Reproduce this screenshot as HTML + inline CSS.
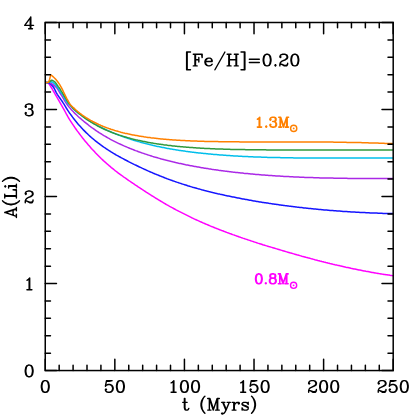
<!DOCTYPE html>
<html><head><meta charset="utf-8"><title>A(Li) vs t</title><style>
html,body{margin:0;padding:0;background:#fff;}
body{width:415px;height:415px;overflow:hidden;font-family:"Liberation Serif",serif;}
svg{display:block;position:absolute;left:0;top:0;}
</style></head><body>
<svg width="415" height="415" viewBox="0 0 415 415">
<rect width="415" height="415" fill="#fff"/>
<g fill="none" stroke-width="1.5" stroke-linejoin="round" stroke-linecap="butt">
<path d="M45.3,82.6 L46.3,82.6 L47.3,82.7 L48.3,83.2 L49.3,84.3 L50.3,85.8 L51.3,87.5 L52.3,89.2 L53.3,91.0 L54.3,92.7 L55.3,94.5 L56.3,96.2 L57.3,97.9 L58.3,99.6 L59.3,101.4 L60.3,103.1 L61.3,104.9 L62.3,106.6 L63.3,108.4 L64.3,110.2 L65.3,112.0 L66.3,113.9 L67.3,115.7 L68.3,117.5 L69.3,119.2 L70.4,120.8 L71.4,122.3 L72.4,123.9 L73.4,125.4 L74.4,126.8 L75.4,128.3 L76.4,129.7 L77.4,131.1 L78.4,132.4 L79.4,133.8 L80.4,135.1 L81.4,136.4 L82.4,137.7 L83.4,138.9 L84.4,140.2 L85.4,141.4 L86.4,142.6 L87.4,143.8 L88.4,145.0 L89.4,146.1 L90.4,147.2 L91.4,148.4 L92.4,149.5 L93.4,150.5 L94.4,151.6 L95.4,152.7 L96.4,153.7 L97.4,154.7 L98.4,155.7 L99.4,156.7 L100.4,157.7 L101.4,158.7 L102.4,159.6 L103.4,160.6 L104.4,161.5 L105.4,162.4 L106.4,163.3 L107.4,164.2 L108.4,165.0 L109.4,165.9 L110.4,166.7 L111.4,167.6 L112.4,168.4 L113.4,169.2 L114.4,170.0 L115.4,170.8 L116.4,171.5 L117.4,172.3 L118.4,173.1 L119.4,173.8 L120.5,174.6 L121.5,175.3 L122.5,176.0 L123.5,176.8 L124.5,177.5 L125.5,178.2 L126.5,178.9 L127.5,179.6 L128.5,180.3 L129.5,181.0 L130.5,181.7 L131.5,182.4 L132.5,183.0 L133.5,183.7 L134.5,184.4 L135.5,185.1 L136.5,185.7 L137.5,186.4 L138.5,187.1 L139.5,187.7 L140.5,188.4 L141.5,189.0 L142.5,189.7 L143.5,190.3 L144.5,191.0 L145.5,191.6 L146.5,192.3 L147.5,192.9 L148.5,193.6 L149.5,194.2 L150.5,194.8 L151.5,195.5 L152.5,196.1 L153.5,196.7 L154.5,197.3 L155.5,198.0 L156.5,198.6 L157.5,199.2 L158.5,199.8 L159.5,200.4 L160.5,201.0 L161.5,201.6 L162.5,202.2 L163.5,202.8 L164.5,203.4 L165.5,204.0 L166.5,204.6 L167.5,205.1 L168.5,205.7 L169.6,206.3 L170.6,206.8 L171.6,207.4 L172.6,207.9 L173.6,208.5 L174.6,209.0 L175.6,209.6 L176.6,210.1 L177.6,210.6 L178.6,211.2 L179.6,211.7 L180.6,212.2 L181.6,212.7 L182.6,213.2 L183.6,213.7 L184.6,214.2 L185.6,214.7 L186.6,215.2 L187.6,215.7 L188.6,216.2 L189.6,216.7 L190.6,217.2 L191.6,217.7 L192.6,218.1 L193.6,218.6 L194.6,219.1 L195.6,219.5 L196.6,220.0 L197.6,220.4 L198.6,220.9 L199.6,221.3 L200.6,221.8 L201.6,222.2 L202.6,222.7 L203.6,223.1 L204.6,223.5 L205.6,224.0 L206.6,224.4 L207.6,224.8 L208.6,225.2 L209.6,225.6 L210.6,226.1 L211.6,226.5 L212.6,226.9 L213.6,227.3 L214.6,227.7 L215.6,228.1 L216.6,228.5 L217.6,228.9 L218.6,229.3 L219.7,229.7 L220.7,230.1 L221.7,230.5 L222.7,230.8 L223.7,231.2 L224.7,231.6 L225.7,232.0 L226.7,232.4 L227.7,232.7 L228.7,233.1 L229.7,233.5 L230.7,233.8 L231.7,234.2 L232.7,234.6 L233.7,234.9 L234.7,235.3 L235.7,235.6 L236.7,236.0 L237.7,236.3 L238.7,236.7 L239.7,237.0 L240.7,237.4 L241.7,237.7 L242.7,238.1 L243.7,238.4 L244.7,238.8 L245.7,239.1 L246.7,239.4 L247.7,239.8 L248.7,240.1 L249.7,240.4 L250.7,240.8 L251.7,241.1 L252.7,241.4 L253.7,241.8 L254.7,242.1 L255.7,242.4 L256.7,242.7 L257.7,243.1 L258.7,243.4 L259.7,243.7 L260.7,244.0 L261.7,244.3 L262.7,244.7 L263.7,245.0 L264.7,245.3 L265.7,245.6 L266.7,245.9 L267.7,246.2 L268.7,246.5 L269.8,246.8 L270.8,247.1 L271.8,247.4 L272.8,247.7 L273.8,248.0 L274.8,248.3 L275.8,248.6 L276.8,248.9 L277.8,249.2 L278.8,249.5 L279.8,249.8 L280.8,250.1 L281.8,250.4 L282.8,250.7 L283.8,251.0 L284.8,251.3 L285.8,251.6 L286.8,251.9 L287.8,252.2 L288.8,252.5 L289.8,252.8 L290.8,253.1 L291.8,253.3 L292.8,253.6 L293.8,253.9 L294.8,254.2 L295.8,254.5 L296.8,254.8 L297.8,255.0 L298.8,255.3 L299.8,255.6 L300.8,255.9 L301.8,256.2 L302.8,256.4 L303.8,256.7 L304.8,257.0 L305.8,257.3 L306.8,257.5 L307.8,257.8 L308.8,258.1 L309.8,258.3 L310.8,258.6 L311.8,258.9 L312.8,259.1 L313.8,259.4 L314.8,259.7 L315.8,259.9 L316.8,260.2 L317.8,260.5 L318.9,260.7 L319.9,261.0 L320.9,261.2 L321.9,261.5 L322.9,261.7 L323.9,262.0 L324.9,262.2 L325.9,262.5 L326.9,262.7 L327.9,263.0 L328.9,263.2 L329.9,263.5 L330.9,263.7 L331.9,263.9 L332.9,264.2 L333.9,264.4 L334.9,264.7 L335.9,264.9 L336.9,265.1 L337.9,265.4 L338.9,265.6 L339.9,265.8 L340.9,266.1 L341.9,266.3 L342.9,266.5 L343.9,266.7 L344.9,266.9 L345.9,267.2 L346.9,267.4 L347.9,267.6 L348.9,267.8 L349.9,268.0 L350.9,268.3 L351.9,268.5 L352.9,268.7 L353.9,268.9 L354.9,269.1 L355.9,269.3 L356.9,269.5 L357.9,269.7 L358.9,269.9 L359.9,270.1 L360.9,270.3 L361.9,270.5 L362.9,270.7 L363.9,270.9 L364.9,271.1 L365.9,271.3 L366.9,271.4 L367.9,271.6 L369.0,271.8 L370.0,272.0 L371.0,272.2 L372.0,272.4 L373.0,272.5 L374.0,272.7 L375.0,272.9 L376.0,273.1 L377.0,273.2 L378.0,273.4 L379.0,273.6 L380.0,273.7 L381.0,273.9 L382.0,274.1 L383.0,274.2 L384.0,274.4 L385.0,274.5 L386.0,274.7 L387.0,274.8 L388.0,275.0 L389.0,275.1 L390.0,275.3 L391.0,275.4 L392.0,275.6 L393.0,275.7" stroke="#ff00ff"/>
<path d="M45.3,82.6 L46.3,82.6 L47.3,82.7 L48.3,82.8 L49.3,83.2 L50.3,83.8 L51.3,84.7 L52.3,85.8 L53.3,87.0 L54.3,88.5 L55.3,90.6 L56.3,92.6 L57.3,94.3 L58.3,95.8 L59.3,97.3 L60.3,98.7 L61.3,100.1 L62.3,101.5 L63.3,103.1 L64.3,104.6 L65.3,106.3 L66.3,108.0 L67.3,109.6 L68.3,111.2 L69.3,112.7 L70.4,114.1 L71.4,115.5 L72.4,116.9 L73.4,118.2 L74.4,119.5 L75.4,120.8 L76.4,122.0 L77.4,123.2 L78.4,124.4 L79.4,125.5 L80.4,126.6 L81.4,127.7 L82.4,128.8 L83.4,129.9 L84.4,130.9 L85.4,131.9 L86.4,132.9 L87.4,133.8 L88.4,134.8 L89.4,135.7 L90.4,136.6 L91.4,137.5 L92.4,138.3 L93.4,139.2 L94.4,140.0 L95.4,140.8 L96.4,141.6 L97.4,142.4 L98.4,143.2 L99.4,143.9 L100.4,144.7 L101.4,145.4 L102.4,146.1 L103.4,146.8 L104.4,147.5 L105.4,148.2 L106.4,148.9 L107.4,149.5 L108.4,150.2 L109.4,150.8 L110.4,151.4 L111.4,152.1 L112.4,152.7 L113.4,153.3 L114.4,153.9 L115.4,154.5 L116.4,155.1 L117.4,155.6 L118.4,156.2 L119.4,156.8 L120.5,157.3 L121.5,157.9 L122.5,158.4 L123.5,158.9 L124.5,159.5 L125.5,160.0 L126.5,160.5 L127.5,161.0 L128.5,161.6 L129.5,162.1 L130.5,162.6 L131.5,163.1 L132.5,163.6 L133.5,164.1 L134.5,164.6 L135.5,165.0 L136.5,165.5 L137.5,166.0 L138.5,166.5 L139.5,167.0 L140.5,167.4 L141.5,167.9 L142.5,168.4 L143.5,168.8 L144.5,169.3 L145.5,169.7 L146.5,170.2 L147.5,170.6 L148.5,171.1 L149.5,171.5 L150.5,172.0 L151.5,172.4 L152.5,172.8 L153.5,173.3 L154.5,173.7 L155.5,174.1 L156.5,174.5 L157.5,174.9 L158.5,175.3 L159.5,175.7 L160.5,176.1 L161.5,176.5 L162.5,176.9 L163.5,177.3 L164.5,177.7 L165.5,178.1 L166.5,178.5 L167.5,178.9 L168.5,179.2 L169.6,179.6 L170.6,180.0 L171.6,180.3 L172.6,180.7 L173.6,181.0 L174.6,181.4 L175.6,181.7 L176.6,182.1 L177.6,182.4 L178.6,182.8 L179.6,183.1 L180.6,183.4 L181.6,183.8 L182.6,184.1 L183.6,184.4 L184.6,184.7 L185.6,185.0 L186.6,185.3 L187.6,185.7 L188.6,186.0 L189.6,186.3 L190.6,186.6 L191.6,186.9 L192.6,187.2 L193.6,187.4 L194.6,187.7 L195.6,188.0 L196.6,188.3 L197.6,188.6 L198.6,188.9 L199.6,189.1 L200.6,189.4 L201.6,189.7 L202.6,189.9 L203.6,190.2 L204.6,190.5 L205.6,190.7 L206.6,191.0 L207.6,191.2 L208.6,191.5 L209.6,191.7 L210.6,192.0 L211.6,192.2 L212.6,192.5 L213.6,192.7 L214.6,193.0 L215.6,193.2 L216.6,193.4 L217.6,193.7 L218.6,193.9 L219.7,194.1 L220.7,194.4 L221.7,194.6 L222.7,194.8 L223.7,195.0 L224.7,195.3 L225.7,195.5 L226.7,195.7 L227.7,195.9 L228.7,196.1 L229.7,196.3 L230.7,196.5 L231.7,196.7 L232.7,196.9 L233.7,197.1 L234.7,197.3 L235.7,197.5 L236.7,197.7 L237.7,197.9 L238.7,198.1 L239.7,198.3 L240.7,198.5 L241.7,198.7 L242.7,198.9 L243.7,199.1 L244.7,199.3 L245.7,199.5 L246.7,199.6 L247.7,199.8 L248.7,200.0 L249.7,200.2 L250.7,200.3 L251.7,200.5 L252.7,200.7 L253.7,200.9 L254.7,201.0 L255.7,201.2 L256.7,201.4 L257.7,201.5 L258.7,201.7 L259.7,201.9 L260.7,202.0 L261.7,202.2 L262.7,202.4 L263.7,202.5 L264.7,202.7 L265.7,202.8 L266.7,203.0 L267.7,203.1 L268.7,203.3 L269.8,203.4 L270.8,203.6 L271.8,203.7 L272.8,203.9 L273.8,204.0 L274.8,204.2 L275.8,204.3 L276.8,204.5 L277.8,204.6 L278.8,204.7 L279.8,204.9 L280.8,205.0 L281.8,205.2 L282.8,205.3 L283.8,205.4 L284.8,205.6 L285.8,205.7 L286.8,205.8 L287.8,205.9 L288.8,206.1 L289.8,206.2 L290.8,206.3 L291.8,206.5 L292.8,206.6 L293.8,206.7 L294.8,206.8 L295.8,206.9 L296.8,207.1 L297.8,207.2 L298.8,207.3 L299.8,207.4 L300.8,207.5 L301.8,207.6 L302.8,207.7 L303.8,207.9 L304.8,208.0 L305.8,208.1 L306.8,208.2 L307.8,208.3 L308.8,208.4 L309.8,208.5 L310.8,208.6 L311.8,208.7 L312.8,208.8 L313.8,208.9 L314.8,209.0 L315.8,209.1 L316.8,209.2 L317.8,209.3 L318.9,209.4 L319.9,209.5 L320.9,209.6 L321.9,209.7 L322.9,209.8 L323.9,209.9 L324.9,209.9 L325.9,210.0 L326.9,210.1 L327.9,210.2 L328.9,210.3 L329.9,210.4 L330.9,210.4 L331.9,210.5 L332.9,210.6 L333.9,210.7 L334.9,210.8 L335.9,210.8 L336.9,210.9 L337.9,211.0 L338.9,211.1 L339.9,211.1 L340.9,211.2 L341.9,211.3 L342.9,211.4 L343.9,211.4 L344.9,211.5 L345.9,211.6 L346.9,211.6 L347.9,211.7 L348.9,211.8 L349.9,211.8 L350.9,211.9 L351.9,211.9 L352.9,212.0 L353.9,212.1 L354.9,212.1 L355.9,212.2 L356.9,212.2 L357.9,212.3 L358.9,212.3 L359.9,212.4 L360.9,212.4 L361.9,212.5 L362.9,212.5 L363.9,212.6 L364.9,212.6 L365.9,212.7 L366.9,212.7 L367.9,212.8 L369.0,212.8 L370.0,212.9 L371.0,212.9 L372.0,213.0 L373.0,213.0 L374.0,213.0 L375.0,213.1 L376.0,213.1 L377.0,213.1 L378.0,213.2 L379.0,213.2 L380.0,213.3 L381.0,213.3 L382.0,213.3 L383.0,213.4 L384.0,213.4 L385.0,213.4 L386.0,213.4 L387.0,213.5 L388.0,213.5 L389.0,213.5 L390.0,213.5 L391.0,213.6 L392.0,213.6 L393.0,213.6" stroke="#1414ff"/>
<path d="M45.3,82.5 L46.3,82.5 L47.3,82.5 L48.3,82.5 L49.3,82.6 L50.3,82.9 L51.3,83.4 L52.3,84.1 L53.3,84.9 L54.3,85.7 L55.3,86.5 L56.3,87.4 L57.3,88.5 L58.3,90.2 L59.3,91.9 L60.3,93.5 L61.3,95.1 L62.3,96.7 L63.3,98.4 L64.3,100.1 L65.3,101.8 L66.3,103.3 L67.3,104.7 L68.3,106.1 L69.3,107.3 L70.4,108.5 L71.4,109.7 L72.4,110.8 L73.4,111.8 L74.4,112.9 L75.4,113.9 L76.4,114.8 L77.4,115.7 L78.4,116.7 L79.4,117.6 L80.4,118.4 L81.4,119.3 L82.4,120.2 L83.4,121.0 L84.4,121.8 L85.4,122.6 L86.4,123.4 L87.4,124.2 L88.4,125.0 L89.4,125.8 L90.4,126.5 L91.4,127.3 L92.4,128.0 L93.4,128.7 L94.4,129.4 L95.4,130.1 L96.4,130.8 L97.4,131.5 L98.4,132.1 L99.4,132.8 L100.4,133.4 L101.4,134.0 L102.4,134.7 L103.4,135.3 L104.4,135.9 L105.4,136.4 L106.4,137.0 L107.4,137.6 L108.4,138.2 L109.4,138.7 L110.4,139.3 L111.4,139.8 L112.4,140.3 L113.4,140.8 L114.4,141.3 L115.4,141.8 L116.4,142.3 L117.4,142.8 L118.4,143.3 L119.4,143.8 L120.5,144.3 L121.5,144.7 L122.5,145.2 L123.5,145.6 L124.5,146.1 L125.5,146.5 L126.5,146.9 L127.5,147.4 L128.5,147.8 L129.5,148.2 L130.5,148.6 L131.5,149.0 L132.5,149.4 L133.5,149.8 L134.5,150.2 L135.5,150.6 L136.5,150.9 L137.5,151.3 L138.5,151.7 L139.5,152.0 L140.5,152.4 L141.5,152.8 L142.5,153.1 L143.5,153.4 L144.5,153.8 L145.5,154.1 L146.5,154.4 L147.5,154.8 L148.5,155.1 L149.5,155.4 L150.5,155.7 L151.5,156.0 L152.5,156.4 L153.5,156.7 L154.5,157.0 L155.5,157.2 L156.5,157.5 L157.5,157.8 L158.5,158.1 L159.5,158.4 L160.5,158.7 L161.5,159.0 L162.5,159.2 L163.5,159.5 L164.5,159.8 L165.5,160.0 L166.5,160.3 L167.5,160.5 L168.5,160.8 L169.6,161.0 L170.6,161.3 L171.6,161.5 L172.6,161.8 L173.6,162.0 L174.6,162.2 L175.6,162.5 L176.6,162.7 L177.6,162.9 L178.6,163.2 L179.6,163.4 L180.6,163.6 L181.6,163.8 L182.6,164.0 L183.6,164.2 L184.6,164.4 L185.6,164.7 L186.6,164.9 L187.6,165.1 L188.6,165.3 L189.6,165.5 L190.6,165.7 L191.6,165.8 L192.6,166.0 L193.6,166.2 L194.6,166.4 L195.6,166.6 L196.6,166.8 L197.6,167.0 L198.6,167.1 L199.6,167.3 L200.6,167.5 L201.6,167.7 L202.6,167.8 L203.6,168.0 L204.6,168.2 L205.6,168.3 L206.6,168.5 L207.6,168.6 L208.6,168.8 L209.6,168.9 L210.6,169.1 L211.6,169.3 L212.6,169.4 L213.6,169.6 L214.6,169.7 L215.6,169.8 L216.6,170.0 L217.6,170.1 L218.6,170.3 L219.7,170.4 L220.7,170.5 L221.7,170.7 L222.7,170.8 L223.7,170.9 L224.7,171.1 L225.7,171.2 L226.7,171.3 L227.7,171.5 L228.7,171.6 L229.7,171.7 L230.7,171.8 L231.7,171.9 L232.7,172.1 L233.7,172.2 L234.7,172.3 L235.7,172.4 L236.7,172.5 L237.7,172.6 L238.7,172.7 L239.7,172.8 L240.7,172.9 L241.7,173.0 L242.7,173.1 L243.7,173.3 L244.7,173.4 L245.7,173.5 L246.7,173.5 L247.7,173.6 L248.7,173.7 L249.7,173.8 L250.7,173.9 L251.7,174.0 L252.7,174.1 L253.7,174.2 L254.7,174.3 L255.7,174.4 L256.7,174.5 L257.7,174.5 L258.7,174.6 L259.7,174.7 L260.7,174.8 L261.7,174.9 L262.7,175.0 L263.7,175.0 L264.7,175.1 L265.7,175.2 L266.7,175.3 L267.7,175.3 L268.7,175.4 L269.8,175.5 L270.8,175.5 L271.8,175.6 L272.8,175.7 L273.8,175.7 L274.8,175.8 L275.8,175.9 L276.8,175.9 L277.8,176.0 L278.8,176.1 L279.8,176.1 L280.8,176.2 L281.8,176.2 L282.8,176.3 L283.8,176.4 L284.8,176.4 L285.8,176.5 L286.8,176.5 L287.8,176.6 L288.8,176.6 L289.8,176.7 L290.8,176.7 L291.8,176.8 L292.8,176.8 L293.8,176.9 L294.8,176.9 L295.8,177.0 L296.8,177.0 L297.8,177.1 L298.8,177.1 L299.8,177.2 L300.8,177.2 L301.8,177.2 L302.8,177.3 L303.8,177.3 L304.8,177.4 L305.8,177.4 L306.8,177.4 L307.8,177.5 L308.8,177.5 L309.8,177.5 L310.8,177.6 L311.8,177.6 L312.8,177.6 L313.8,177.7 L314.8,177.7 L315.8,177.7 L316.8,177.8 L317.8,177.8 L318.9,177.8 L319.9,177.9 L320.9,177.9 L321.9,177.9 L322.9,177.9 L323.9,178.0 L324.9,178.0 L325.9,178.0 L326.9,178.0 L327.9,178.0 L328.9,178.1 L329.9,178.1 L330.9,178.1 L331.9,178.1 L332.9,178.1 L333.9,178.2 L334.9,178.2 L335.9,178.2 L336.9,178.2 L337.9,178.2 L338.9,178.2 L339.9,178.3 L340.9,178.3 L341.9,178.3 L342.9,178.3 L343.9,178.3 L344.9,178.3 L345.9,178.3 L346.9,178.3 L347.9,178.4 L348.9,178.4 L349.9,178.4 L350.9,178.4 L351.9,178.4 L352.9,178.4 L353.9,178.4 L354.9,178.4 L355.9,178.4 L356.9,178.4 L357.9,178.4 L358.9,178.4 L359.9,178.4 L360.9,178.4 L361.9,178.4 L362.9,178.4 L363.9,178.4 L364.9,178.4 L365.9,178.4 L366.9,178.4 L367.9,178.4 L369.0,178.4 L370.0,178.4 L371.0,178.4 L372.0,178.4 L373.0,178.4 L374.0,178.4 L375.0,178.4 L376.0,178.4 L377.0,178.4 L378.0,178.4 L379.0,178.4 L380.0,178.4 L381.0,178.4 L382.0,178.4 L383.0,178.4 L384.0,178.4 L385.0,178.4 L386.0,178.4 L387.0,178.4 L388.0,178.4 L389.0,178.4 L390.0,178.4 L391.0,178.4 L392.0,178.4 L393.0,178.4" stroke="#aa28e6"/>
<path d="M45.3,82.5 L46.3,82.5 L47.3,82.5 L48.3,82.4 L49.3,82.3 L50.3,82.0 L51.3,81.8 L52.3,82.0 L53.3,82.7 L54.3,83.6 L55.3,84.5 L56.3,85.8 L57.3,87.2 L58.3,88.6 L59.3,90.2 L60.3,91.7 L61.3,93.1 L62.3,94.4 L63.3,95.9 L64.3,97.7 L65.3,99.6 L66.3,101.4 L67.3,102.6 L68.3,103.6 L69.3,104.5 L70.4,105.5 L71.4,106.6 L72.4,107.7 L73.4,108.9 L74.4,109.9 L75.4,110.8 L76.4,111.7 L77.4,112.5 L78.4,113.3 L79.4,114.0 L80.4,114.7 L81.4,115.5 L82.4,116.2 L83.4,116.9 L84.4,117.6 L85.4,118.3 L86.4,118.9 L87.4,119.6 L88.4,120.2 L89.4,120.8 L90.4,121.5 L91.4,122.1 L92.4,122.6 L93.4,123.2 L94.4,123.8 L95.4,124.4 L96.4,124.9 L97.4,125.5 L98.4,126.0 L99.4,126.5 L100.4,127.0 L101.4,127.5 L102.4,128.0 L103.4,128.5 L104.4,129.0 L105.4,129.5 L106.4,129.9 L107.4,130.4 L108.4,130.9 L109.4,131.3 L110.4,131.7 L111.4,132.2 L112.4,132.6 L113.4,133.0 L114.4,133.4 L115.4,133.8 L116.4,134.2 L117.4,134.6 L118.4,135.0 L119.4,135.4 L120.5,135.8 L121.5,136.1 L122.5,136.5 L123.5,136.9 L124.5,137.2 L125.5,137.6 L126.5,137.9 L127.5,138.2 L128.5,138.6 L129.5,138.9 L130.5,139.2 L131.5,139.5 L132.5,139.9 L133.5,140.2 L134.5,140.5 L135.5,140.8 L136.5,141.1 L137.5,141.4 L138.5,141.6 L139.5,141.9 L140.5,142.2 L141.5,142.5 L142.5,142.8 L143.5,143.0 L144.5,143.3 L145.5,143.5 L146.5,143.8 L147.5,144.0 L148.5,144.3 L149.5,144.5 L150.5,144.8 L151.5,145.0 L152.5,145.2 L153.5,145.5 L154.5,145.7 L155.5,145.9 L156.5,146.2 L157.5,146.4 L158.5,146.6 L159.5,146.8 L160.5,147.0 L161.5,147.2 L162.5,147.4 L163.5,147.6 L164.5,147.8 L165.5,148.0 L166.5,148.2 L167.5,148.4 L168.5,148.5 L169.6,148.7 L170.6,148.9 L171.6,149.1 L172.6,149.2 L173.6,149.4 L174.6,149.6 L175.6,149.7 L176.6,149.9 L177.6,150.1 L178.6,150.2 L179.6,150.4 L180.6,150.5 L181.6,150.7 L182.6,150.8 L183.6,151.0 L184.6,151.1 L185.6,151.3 L186.6,151.4 L187.6,151.5 L188.6,151.7 L189.6,151.8 L190.6,151.9 L191.6,152.1 L192.6,152.2 L193.6,152.3 L194.6,152.4 L195.6,152.5 L196.6,152.7 L197.6,152.8 L198.6,152.9 L199.6,153.0 L200.6,153.1 L201.6,153.2 L202.6,153.3 L203.6,153.4 L204.6,153.5 L205.6,153.6 L206.6,153.7 L207.6,153.8 L208.6,153.9 L209.6,154.0 L210.6,154.1 L211.6,154.2 L212.6,154.3 L213.6,154.4 L214.6,154.5 L215.6,154.6 L216.6,154.6 L217.6,154.7 L218.6,154.8 L219.7,154.9 L220.7,155.0 L221.7,155.0 L222.7,155.1 L223.7,155.2 L224.7,155.3 L225.7,155.3 L226.7,155.4 L227.7,155.5 L228.7,155.5 L229.7,155.6 L230.7,155.7 L231.7,155.7 L232.7,155.8 L233.7,155.9 L234.7,155.9 L235.7,156.0 L236.7,156.0 L237.7,156.1 L238.7,156.2 L239.7,156.2 L240.7,156.3 L241.7,156.3 L242.7,156.4 L243.7,156.4 L244.7,156.5 L245.7,156.5 L246.7,156.6 L247.7,156.6 L248.7,156.7 L249.7,156.7 L250.7,156.8 L251.7,156.8 L252.7,156.8 L253.7,156.9 L254.7,156.9 L255.7,157.0 L256.7,157.0 L257.7,157.0 L258.7,157.1 L259.7,157.1 L260.7,157.1 L261.7,157.2 L262.7,157.2 L263.7,157.2 L264.7,157.3 L265.7,157.3 L266.7,157.3 L267.7,157.4 L268.7,157.4 L269.8,157.4 L270.8,157.4 L271.8,157.5 L272.8,157.5 L273.8,157.5 L274.8,157.5 L275.8,157.6 L276.8,157.6 L277.8,157.6 L278.8,157.6 L279.8,157.6 L280.8,157.7 L281.8,157.7 L282.8,157.7 L283.8,157.7 L284.8,157.7 L285.8,157.8 L286.8,157.8 L287.8,157.8 L288.8,157.8 L289.8,157.8 L290.8,157.8 L291.8,157.8 L292.8,157.8 L293.8,157.9 L294.8,157.9 L295.8,157.9 L296.8,157.9 L297.8,157.9 L298.8,157.9 L299.8,157.9 L300.8,157.9 L301.8,157.9 L302.8,157.9 L303.8,157.9 L304.8,158.0 L305.8,158.0 L306.8,158.0 L307.8,158.0 L308.8,158.0 L309.8,158.0 L310.8,158.0 L311.8,158.0 L312.8,158.0 L313.8,158.0 L314.8,158.0 L315.8,158.0 L316.8,158.0 L317.8,158.0 L318.9,158.0 L319.9,158.0 L320.9,158.0 L321.9,158.0 L322.9,158.0 L323.9,158.0 L324.9,158.0 L325.9,158.0 L326.9,158.0 L327.9,158.0 L328.9,158.0 L329.9,158.0 L330.9,158.0 L331.9,158.0 L332.9,158.0 L333.9,158.0 L334.9,158.0 L335.9,158.0 L336.9,158.0 L337.9,158.0 L338.9,158.0 L339.9,158.0 L340.9,158.0 L341.9,158.0 L342.9,158.0 L343.9,158.0 L344.9,158.0 L345.9,158.0 L346.9,158.0 L347.9,158.0 L348.9,158.0 L349.9,158.0 L350.9,158.0 L351.9,158.0 L352.9,158.0 L353.9,158.0 L354.9,158.0 L355.9,158.0 L356.9,158.0 L357.9,158.0 L358.9,158.0 L359.9,158.0 L360.9,158.0 L361.9,158.0 L362.9,158.0 L363.9,158.0 L364.9,158.0 L365.9,158.0 L366.9,158.0 L367.9,158.0 L369.0,158.0 L370.0,158.0 L371.0,158.0 L372.0,158.0 L373.0,158.0 L374.0,158.0 L375.0,158.0 L376.0,158.0 L377.0,158.0 L378.0,158.0 L379.0,158.0 L380.0,158.0 L381.0,158.0 L382.0,158.0 L383.0,158.0 L384.0,158.0 L385.0,158.0 L386.0,158.0 L387.0,158.0 L388.0,158.0 L389.0,158.0 L390.0,158.0 L391.0,158.0 L392.0,158.0 L393.0,158.0" stroke="#00beeb"/>
<path d="M45.3,82.5 L46.3,82.5 L47.3,82.4 L48.3,82.3 L49.3,81.9 L50.3,81.1 L51.3,80.3 L52.3,80.3 L53.3,80.8 L54.3,81.5 L55.3,82.4 L56.3,83.7 L57.3,85.2 L58.3,86.6 L59.3,87.9 L60.3,89.4 L61.3,91.1 L62.3,92.7 L63.3,94.3 L64.3,96.0 L65.3,97.6 L66.3,99.3 L67.3,101.1 L68.3,102.7 L69.3,104.1 L70.4,105.3 L71.4,106.5 L72.4,107.6 L73.4,108.6 L74.4,109.5 L75.4,110.5 L76.4,111.3 L77.4,112.2 L78.4,113.0 L79.4,113.8 L80.4,114.5 L81.4,115.3 L82.4,116.1 L83.4,116.9 L84.4,117.6 L85.4,118.4 L86.4,119.1 L87.4,119.8 L88.4,120.4 L89.4,121.1 L90.4,121.7 L91.4,122.3 L92.4,122.9 L93.4,123.5 L94.4,124.1 L95.4,124.7 L96.4,125.2 L97.4,125.8 L98.4,126.3 L99.4,126.8 L100.4,127.3 L101.4,127.8 L102.4,128.3 L103.4,128.8 L104.4,129.3 L105.4,129.7 L106.4,130.1 L107.4,130.6 L108.4,131.0 L109.4,131.4 L110.4,131.8 L111.4,132.2 L112.4,132.6 L113.4,133.0 L114.4,133.4 L115.4,133.7 L116.4,134.1 L117.4,134.4 L118.4,134.8 L119.4,135.1 L120.5,135.4 L121.5,135.8 L122.5,136.1 L123.5,136.4 L124.5,136.7 L125.5,137.0 L126.5,137.3 L127.5,137.6 L128.5,137.9 L129.5,138.1 L130.5,138.4 L131.5,138.7 L132.5,138.9 L133.5,139.2 L134.5,139.4 L135.5,139.7 L136.5,139.9 L137.5,140.1 L138.5,140.4 L139.5,140.6 L140.5,140.8 L141.5,141.0 L142.5,141.2 L143.5,141.4 L144.5,141.6 L145.5,141.8 L146.5,142.0 L147.5,142.2 L148.5,142.4 L149.5,142.6 L150.5,142.7 L151.5,142.9 L152.5,143.1 L153.5,143.3 L154.5,143.4 L155.5,143.6 L156.5,143.7 L157.5,143.9 L158.5,144.0 L159.5,144.2 L160.5,144.3 L161.5,144.5 L162.5,144.6 L163.5,144.8 L164.5,144.9 L165.5,145.0 L166.5,145.1 L167.5,145.3 L168.5,145.4 L169.6,145.5 L170.6,145.6 L171.6,145.7 L172.6,145.9 L173.6,146.0 L174.6,146.1 L175.6,146.2 L176.6,146.3 L177.6,146.4 L178.6,146.5 L179.6,146.6 L180.6,146.7 L181.6,146.8 L182.6,146.8 L183.6,146.9 L184.6,147.0 L185.6,147.1 L186.6,147.2 L187.6,147.3 L188.6,147.3 L189.6,147.4 L190.6,147.5 L191.6,147.6 L192.6,147.6 L193.6,147.7 L194.6,147.8 L195.6,147.8 L196.6,147.9 L197.6,148.0 L198.6,148.0 L199.6,148.1 L200.6,148.2 L201.6,148.2 L202.6,148.3 L203.6,148.3 L204.6,148.4 L205.6,148.4 L206.6,148.5 L207.6,148.5 L208.6,148.6 L209.6,148.6 L210.6,148.7 L211.6,148.7 L212.6,148.8 L213.6,148.8 L214.6,148.8 L215.6,148.9 L216.6,148.9 L217.6,149.0 L218.6,149.0 L219.7,149.0 L220.7,149.1 L221.7,149.1 L222.7,149.1 L223.7,149.2 L224.7,149.2 L225.7,149.2 L226.7,149.3 L227.7,149.3 L228.7,149.3 L229.7,149.3 L230.7,149.4 L231.7,149.4 L232.7,149.4 L233.7,149.4 L234.7,149.5 L235.7,149.5 L236.7,149.5 L237.7,149.5 L238.7,149.5 L239.7,149.6 L240.7,149.6 L241.7,149.6 L242.7,149.6 L243.7,149.6 L244.7,149.6 L245.7,149.7 L246.7,149.7 L247.7,149.7 L248.7,149.7 L249.7,149.7 L250.7,149.7 L251.7,149.7 L252.7,149.7 L253.7,149.8 L254.7,149.8 L255.7,149.8 L256.7,149.8 L257.7,149.8 L258.7,149.8 L259.7,149.8 L260.7,149.8 L261.7,149.8 L262.7,149.8 L263.7,149.8 L264.7,149.8 L265.7,149.8 L266.7,149.9 L267.7,149.9 L268.7,149.9 L269.8,149.9 L270.8,149.9 L271.8,149.9 L272.8,149.9 L273.8,149.9 L274.8,149.9 L275.8,149.9 L276.8,149.9 L277.8,149.9 L278.8,149.9 L279.8,149.9 L280.8,149.9 L281.8,149.9 L282.8,149.9 L283.8,149.9 L284.8,149.9 L285.8,149.9 L286.8,149.9 L287.8,149.9 L288.8,149.9 L289.8,149.9 L290.8,149.9 L291.8,149.9 L292.8,149.9 L293.8,149.9 L294.8,149.9 L295.8,149.9 L296.8,149.9 L297.8,149.9 L298.8,149.9 L299.8,149.9 L300.8,149.9 L301.8,149.9 L302.8,149.9 L303.8,149.9 L304.8,149.9 L305.8,149.9 L306.8,149.9 L307.8,149.9 L308.8,149.9 L309.8,149.9 L310.8,149.9 L311.8,149.9 L312.8,149.9 L313.8,149.9 L314.8,149.9 L315.8,149.9 L316.8,149.9 L317.8,149.9 L318.9,149.9 L319.9,149.9 L320.9,149.9 L321.9,149.9 L322.9,149.9 L323.9,149.9 L324.9,149.9 L325.9,149.9 L326.9,149.9 L327.9,149.9 L328.9,149.9 L329.9,149.9 L330.9,149.9 L331.9,149.9 L332.9,149.9 L333.9,149.9 L334.9,149.9 L335.9,149.9 L336.9,149.9 L337.9,149.9 L338.9,149.9 L339.9,149.9 L340.9,149.9 L341.9,149.9 L342.9,149.9 L343.9,149.9 L344.9,149.9 L345.9,149.9 L346.9,149.9 L347.9,149.9 L348.9,149.9 L349.9,149.9 L350.9,149.9 L351.9,149.9 L352.9,149.9 L353.9,149.9 L354.9,149.9 L355.9,149.9 L356.9,149.9 L357.9,149.9 L358.9,149.9 L359.9,149.9 L360.9,149.9 L361.9,149.9 L362.9,149.9 L363.9,149.9 L364.9,149.9 L365.9,149.9 L366.9,149.9 L367.9,149.9 L369.0,149.9 L370.0,149.9 L371.0,149.9 L372.0,149.9 L373.0,149.9 L374.0,149.9 L375.0,149.9 L376.0,149.9 L377.0,149.9 L378.0,149.9 L379.0,149.9 L380.0,149.9 L381.0,149.9 L382.0,149.9 L383.0,149.9 L384.0,149.9 L385.0,149.9 L386.0,150.0 L387.0,150.0 L388.0,150.0 L389.0,150.0 L390.0,150.0 L391.0,150.0 L392.0,150.0 L393.0,150.0" stroke="#30993c"/>
<path d="M45.1,82.5 L46.2,82.5 L47.3,82.4 L48.5,82.2 L49.6,79.4 L50.7,74.8 L50.7,74.8 L51.7,75.5 L52.7,76.4 L53.7,77.3 L54.7,78.2 L55.7,79.3 L56.7,80.5 L57.7,81.7 L58.7,83.1 L59.7,84.7 L60.7,86.4 L61.7,88.2 L62.7,90.2 L63.7,92.3 L64.7,94.4 L65.7,96.4 L66.7,98.3 L67.7,100.1 L68.7,101.9 L69.7,103.6 L70.7,104.9 L71.7,106.0 L72.7,107.0 L73.7,107.9 L74.7,108.9 L75.7,109.8 L76.7,110.7 L77.7,111.5 L78.7,112.3 L79.7,113.1 L80.7,113.8 L81.7,114.6 L82.7,115.3 L83.7,116.0 L84.7,116.7 L85.7,117.3 L86.7,118.0 L87.7,118.6 L88.7,119.2 L89.7,119.8 L90.7,120.4 L91.7,120.9 L92.7,121.5 L93.7,122.0 L94.7,122.5 L95.7,123.0 L96.7,123.5 L97.7,124.0 L98.7,124.5 L99.7,124.9 L100.7,125.3 L101.7,125.8 L102.7,126.2 L103.7,126.6 L104.7,127.0 L105.7,127.4 L106.7,127.8 L107.8,128.1 L108.8,128.5 L109.8,128.8 L110.8,129.2 L111.8,129.5 L112.8,129.8 L113.8,130.1 L114.8,130.5 L115.8,130.8 L116.8,131.0 L117.8,131.3 L118.8,131.6 L119.8,131.9 L120.8,132.2 L121.8,132.4 L122.8,132.7 L123.8,132.9 L124.8,133.2 L125.8,133.4 L126.8,133.6 L127.8,133.8 L128.8,134.1 L129.8,134.3 L130.8,134.5 L131.8,134.7 L132.8,134.9 L133.8,135.1 L134.8,135.3 L135.8,135.5 L136.8,135.6 L137.8,135.8 L138.8,136.0 L139.8,136.2 L140.8,136.3 L141.8,136.5 L142.8,136.6 L143.8,136.8 L144.8,136.9 L145.8,137.1 L146.8,137.2 L147.8,137.4 L148.8,137.5 L149.8,137.6 L150.8,137.8 L151.8,137.9 L152.8,138.0 L153.8,138.1 L154.8,138.2 L155.8,138.3 L156.8,138.5 L157.8,138.6 L158.8,138.7 L159.8,138.8 L160.8,138.9 L161.8,139.0 L162.8,139.1 L163.8,139.2 L164.8,139.2 L165.8,139.3 L166.8,139.4 L167.8,139.5 L168.8,139.6 L169.8,139.7 L170.8,139.7 L171.8,139.8 L172.8,139.9 L173.8,140.0 L174.8,140.0 L175.8,140.1 L176.8,140.2 L177.8,140.2 L178.8,140.3 L179.8,140.3 L180.8,140.4 L181.8,140.5 L182.8,140.5 L183.8,140.6 L184.8,140.6 L185.8,140.7 L186.8,140.7 L187.8,140.8 L188.8,140.8 L189.8,140.8 L190.8,140.9 L191.8,140.9 L192.8,141.0 L193.8,141.0 L194.8,141.1 L195.8,141.1 L196.8,141.1 L197.8,141.2 L198.8,141.2 L199.8,141.2 L200.8,141.3 L201.8,141.3 L202.8,141.3 L203.8,141.3 L204.8,141.4 L205.8,141.4 L206.8,141.4 L207.8,141.4 L208.8,141.5 L209.8,141.5 L210.8,141.5 L211.8,141.5 L212.8,141.6 L213.8,141.6 L214.8,141.6 L215.8,141.6 L216.8,141.6 L217.8,141.6 L218.8,141.7 L219.8,141.7 L220.8,141.7 L221.9,141.7 L222.9,141.7 L223.9,141.7 L224.9,141.7 L225.9,141.7 L226.9,141.8 L227.9,141.8 L228.9,141.8 L229.9,141.8 L230.9,141.8 L231.9,141.8 L232.9,141.8 L233.9,141.8 L234.9,141.8 L235.9,141.8 L236.9,141.8 L237.9,141.8 L238.9,141.8 L239.9,141.9 L240.9,141.9 L241.9,141.9 L242.9,141.9 L243.9,141.9 L244.9,141.9 L245.9,141.9 L246.9,141.9 L247.9,141.9 L248.9,141.9 L249.9,141.9 L250.9,141.9 L251.9,141.9 L252.9,141.9 L253.9,141.9 L254.9,141.9 L255.9,141.9 L256.9,141.9 L257.9,141.9 L258.9,141.9 L259.9,141.9 L260.9,141.9 L261.9,141.9 L262.9,141.9 L263.9,141.9 L264.9,141.9 L265.9,141.9 L266.9,141.9 L267.9,141.9 L268.9,141.9 L269.9,141.9 L270.9,141.9 L271.9,141.9 L272.9,141.9 L273.9,141.9 L274.9,141.9 L275.9,141.9 L276.9,141.9 L277.9,141.9 L278.9,141.9 L279.9,141.9 L280.9,141.9 L281.9,141.9 L282.9,141.9 L283.9,141.9 L284.9,141.9 L285.9,141.9 L286.9,141.9 L287.9,141.9 L288.9,141.9 L289.9,141.9 L290.9,141.9 L291.9,141.9 L292.9,141.9 L293.9,141.9 L294.9,141.9 L295.9,141.9 L296.9,141.9 L297.9,141.9 L298.9,141.9 L299.9,141.9 L300.9,141.9 L301.9,141.9 L302.9,141.9 L303.9,141.9 L304.9,141.9 L305.9,141.9 L306.9,141.9 L307.9,141.9 L308.9,141.9 L309.9,141.9 L310.9,142.0 L311.9,142.0 L312.9,142.0 L313.9,142.0 L314.9,142.0 L315.9,142.0 L316.9,142.0 L317.9,142.0 L318.9,142.0 L319.9,142.0 L320.9,142.0 L321.9,142.0 L322.9,142.0 L323.9,142.0 L324.9,142.1 L325.9,142.1 L326.9,142.1 L327.9,142.1 L328.9,142.1 L329.9,142.1 L330.9,142.1 L331.9,142.1 L332.9,142.1 L333.9,142.2 L334.9,142.2 L336.0,142.2 L337.0,142.2 L338.0,142.2 L339.0,142.2 L340.0,142.2 L341.0,142.3 L342.0,142.3 L343.0,142.3 L344.0,142.3 L345.0,142.3 L346.0,142.3 L347.0,142.4 L348.0,142.4 L349.0,142.4 L350.0,142.4 L351.0,142.4 L352.0,142.4 L353.0,142.5 L354.0,142.5 L355.0,142.5 L356.0,142.5 L357.0,142.6 L358.0,142.6 L359.0,142.6 L360.0,142.6 L361.0,142.6 L362.0,142.7 L363.0,142.7 L364.0,142.7 L365.0,142.7 L366.0,142.8 L367.0,142.8 L368.0,142.8 L369.0,142.9 L370.0,142.9 L371.0,142.9 L372.0,142.9 L373.0,143.0 L374.0,143.0 L375.0,143.0 L376.0,143.1 L377.0,143.1 L378.0,143.1 L379.0,143.2 L380.0,143.2 L381.0,143.2 L382.0,143.3 L383.0,143.3 L384.0,143.3 L385.0,143.4 L386.0,143.4 L387.0,143.4 L388.0,143.5 L389.0,143.5 L390.0,143.5 L391.0,143.6 L392.0,143.6 L393.0,143.7" stroke="#ff8000"/>
</g>
<path d="M45.25,370.55v-11.2M45.25,22.5v11.2M59.17,370.55v-5.2M59.17,22.5v5.2M73.09,370.55v-5.2M73.09,22.5v5.2M87.00,370.55v-5.2M87.00,22.5v5.2M100.92,370.55v-5.2M100.92,22.5v5.2M114.84,370.55v-11.2M114.84,22.5v11.2M128.76,370.55v-5.2M128.76,22.5v5.2M142.68,370.55v-5.2M142.68,22.5v5.2M156.59,370.55v-5.2M156.59,22.5v5.2M170.51,370.55v-5.2M170.51,22.5v5.2M184.43,370.55v-11.2M184.43,22.5v11.2M198.35,370.55v-5.2M198.35,22.5v5.2M212.27,370.55v-5.2M212.27,22.5v5.2M226.18,370.55v-5.2M226.18,22.5v5.2M240.10,370.55v-5.2M240.10,22.5v5.2M254.02,370.55v-11.2M254.02,22.5v11.2M267.94,370.55v-5.2M267.94,22.5v5.2M281.86,370.55v-5.2M281.86,22.5v5.2M295.77,370.55v-5.2M295.77,22.5v5.2M309.69,370.55v-5.2M309.69,22.5v5.2M323.61,370.55v-11.2M323.61,22.5v11.2M337.53,370.55v-5.2M337.53,22.5v5.2M351.45,370.55v-5.2M351.45,22.5v5.2M365.36,370.55v-5.2M365.36,22.5v5.2M379.28,370.55v-5.2M379.28,22.5v5.2M393.20,370.55v-11.2M393.20,22.5v11.2M45.25,370.55h11.2M393.2,370.55h-11.2M45.25,353.15h5.2M393.2,353.15h-5.2M45.25,335.75h5.2M393.2,335.75h-5.2M45.25,318.34h5.2M393.2,318.34h-5.2M45.25,300.94h5.2M393.2,300.94h-5.2M45.25,283.54h11.2M393.2,283.54h-11.2M45.25,266.13h5.2M393.2,266.13h-5.2M45.25,248.73h5.2M393.2,248.73h-5.2M45.25,231.33h5.2M393.2,231.33h-5.2M45.25,213.93h5.2M393.2,213.93h-5.2M45.25,196.53h11.2M393.2,196.53h-11.2M45.25,179.12h5.2M393.2,179.12h-5.2M45.25,161.72h5.2M393.2,161.72h-5.2M45.25,144.32h5.2M393.2,144.32h-5.2M45.25,126.92h5.2M393.2,126.92h-5.2M45.25,109.51h11.2M393.2,109.51h-11.2M45.25,92.11h5.2M393.2,92.11h-5.2M45.25,74.71h5.2M393.2,74.71h-5.2M45.25,57.31h5.2M393.2,57.31h-5.2M45.25,39.90h5.2M393.2,39.90h-5.2M45.25,22.50h11.2M393.2,22.50h-11.2" stroke="#000" stroke-width="1.5" fill="none" stroke-linecap="round"/>
<rect x="45.25" y="22.5" width="347.95" height="348.05" fill="none" stroke="#000" stroke-width="1.5"/>
<path d="M44.70,380.64L43.03,381.19L41.92,382.86L41.37,385.63L41.37,387.30L41.92,390.07L43.03,391.74L44.70,392.30L45.81,392.30L47.47,391.74L48.58,390.07L49.14,387.30L49.14,385.63L48.58,382.86L47.47,381.19L45.81,380.64L44.70,380.64M44.70,380.64L43.59,381.19L43.03,381.75L42.48,382.86L41.92,385.63L41.92,387.30L42.48,390.07L43.03,391.19L43.59,391.74L44.70,392.30M45.81,392.30L46.92,391.74L47.47,391.19L48.03,390.07L48.58,387.30L48.58,385.63L48.03,382.86L47.47,381.75L46.92,381.19L45.81,380.64M106.52,380.64L105.41,386.19M105.41,386.19L106.52,385.08L108.18,384.53L109.85,384.53L111.51,385.08L112.62,386.19L113.18,387.86L113.18,388.97L112.62,390.63L111.51,391.74L109.85,392.30L108.18,392.30L106.52,391.74L105.96,391.19L105.41,390.07L105.41,389.52L105.96,388.97L106.52,389.52L105.96,390.07M109.85,384.53L110.96,385.08L112.07,386.19L112.62,387.86L112.62,388.97L112.07,390.63L110.96,391.74L109.85,392.30M106.52,380.64L112.07,380.64M106.52,381.19L109.29,381.19L112.07,380.64M119.84,380.64L118.17,381.19L117.06,382.86L116.51,385.63L116.51,387.30L117.06,390.07L118.17,391.74L119.84,392.30L120.95,392.30L122.61,391.74L123.72,390.07L124.28,387.30L124.28,385.63L123.72,382.86L122.61,381.19L120.95,380.64L119.84,380.64M119.84,380.64L118.73,381.19L118.17,381.75L117.62,382.86L117.06,385.63L117.06,387.30L117.62,390.07L118.17,391.19L118.73,391.74L119.84,392.30M120.95,392.30L122.06,391.74L122.61,391.19L123.17,390.07L123.72,387.30L123.72,385.63L123.17,382.86L122.61,381.75L122.06,381.19L120.95,380.64M171.11,382.86L172.22,382.31L173.88,380.64L173.88,392.30M173.33,381.19L173.33,392.30M171.11,392.30L176.10,392.30M183.88,380.64L182.21,381.19L181.10,382.86L180.55,385.63L180.55,387.30L181.10,390.07L182.21,391.74L183.88,392.30L184.99,392.30L186.65,391.74L187.76,390.07L188.31,387.30L188.31,385.63L187.76,382.86L186.65,381.19L184.99,380.64L183.88,380.64M183.88,380.64L182.77,381.19L182.21,381.75L181.66,382.86L181.10,385.63L181.10,387.30L181.66,390.07L182.21,391.19L182.77,391.74L183.88,392.30M184.99,392.30L186.09,391.74L186.65,391.19L187.21,390.07L187.76,387.30L187.76,385.63L187.21,382.86L186.65,381.75L186.09,381.19L184.99,380.64M194.97,380.64L193.31,381.19L192.20,382.86L191.65,385.63L191.65,387.30L192.20,390.07L193.31,391.74L194.97,392.30L196.09,392.30L197.75,391.74L198.86,390.07L199.41,387.30L199.41,385.63L198.86,382.86L197.75,381.19L196.09,380.64L194.97,380.64M194.97,380.64L193.87,381.19L193.31,381.75L192.75,382.86L192.20,385.63L192.20,387.30L192.75,390.07L193.31,391.19L193.87,391.74L194.97,392.30M196.09,392.30L197.19,391.74L197.75,391.19L198.31,390.07L198.86,387.30L198.86,385.63L198.31,382.86L197.75,381.75L197.19,381.19L196.09,380.64M240.70,382.86L241.81,382.31L243.47,380.64L243.47,392.30M242.92,381.19L242.92,392.30M240.70,392.30L245.69,392.30M251.25,380.64L250.13,386.19M250.13,386.19L251.25,385.08L252.91,384.53L254.58,384.53L256.24,385.08L257.35,386.19L257.91,387.86L257.91,388.97L257.35,390.63L256.24,391.74L254.58,392.30L252.91,392.30L251.25,391.74L250.69,391.19L250.13,390.07L250.13,389.52L250.69,388.97L251.25,389.52L250.69,390.07M254.58,384.53L255.69,385.08L256.80,386.19L257.35,387.86L257.35,388.97L256.80,390.63L255.69,391.74L254.58,392.30M251.25,380.64L256.80,380.64M251.25,381.19L254.02,381.19L256.80,380.64M264.56,380.64L262.90,381.19L261.79,382.86L261.24,385.63L261.24,387.30L261.79,390.07L262.90,391.74L264.56,392.30L265.68,392.30L267.34,391.74L268.45,390.07L269.00,387.30L269.00,385.63L268.45,382.86L267.34,381.19L265.68,380.64L264.56,380.64M264.56,380.64L263.45,381.19L262.90,381.75L262.35,382.86L261.79,385.63L261.79,387.30L262.35,390.07L262.90,391.19L263.45,391.74L264.56,392.30M265.68,392.30L266.79,391.74L267.34,391.19L267.89,390.07L268.45,387.30L268.45,385.63L267.89,382.86L267.34,381.75L266.79,381.19L265.68,380.64M309.18,382.86L309.74,383.42L309.18,383.97L308.63,383.42L308.63,382.86L309.18,381.75L309.74,381.19L311.40,380.64L313.62,380.64L315.29,381.19L315.84,381.75L316.40,382.86L316.40,383.97L315.84,385.08L314.18,386.19L311.40,387.30L310.29,387.86L309.18,388.97L308.63,390.63L308.63,392.30M313.62,380.64L314.73,381.19L315.29,381.75L315.84,382.86L315.84,383.97L315.29,385.08L313.62,386.19L311.40,387.30M308.63,391.19L309.18,390.63L310.29,390.63L313.07,391.74L314.73,391.74L315.84,391.19L316.40,390.63M310.29,390.63L313.07,392.30L315.29,392.30L315.84,391.74L316.40,390.63L316.40,389.52M323.06,380.64L321.39,381.19L320.28,382.86L319.73,385.63L319.73,387.30L320.28,390.07L321.39,391.74L323.06,392.30L324.17,392.30L325.83,391.74L326.94,390.07L327.50,387.30L327.50,385.63L326.94,382.86L325.83,381.19L324.17,380.64L323.06,380.64M323.06,380.64L321.95,381.19L321.39,381.75L320.84,382.86L320.28,385.63L320.28,387.30L320.84,390.07L321.39,391.19L321.95,391.74L323.06,392.30M324.17,392.30L325.28,391.74L325.83,391.19L326.39,390.07L326.94,387.30L326.94,385.63L326.39,382.86L325.83,381.75L325.28,381.19L324.17,380.64M334.16,380.64L332.49,381.19L331.38,382.86L330.83,385.63L330.83,387.30L331.38,390.07L332.49,391.74L334.16,392.30L335.27,392.30L336.93,391.74L338.04,390.07L338.60,387.30L338.60,385.63L338.04,382.86L336.93,381.19L335.27,380.64L334.16,380.64M334.16,380.64L333.05,381.19L332.49,381.75L331.94,382.86L331.38,385.63L331.38,387.30L331.94,390.07L332.49,391.19L333.05,391.74L334.16,392.30M335.27,392.30L336.38,391.74L336.93,391.19L337.49,390.07L338.04,387.30L338.04,385.63L337.49,382.86L336.93,381.75L336.38,381.19L335.27,380.64M378.77,382.86L379.33,383.42L378.77,383.97L378.22,383.42L378.22,382.86L378.77,381.75L379.33,381.19L380.99,380.64L383.21,380.64L384.88,381.19L385.43,381.75L385.99,382.86L385.99,383.97L385.43,385.08L383.77,386.19L380.99,387.30L379.88,387.86L378.77,388.97L378.22,390.63L378.22,392.30M383.21,380.64L384.32,381.19L384.88,381.75L385.43,382.86L385.43,383.97L384.88,385.08L383.21,386.19L380.99,387.30M378.22,391.19L378.77,390.63L379.88,390.63L382.66,391.74L384.32,391.74L385.43,391.19L385.99,390.63M379.88,390.63L382.66,392.30L384.88,392.30L385.43,391.74L385.99,390.63L385.99,389.52M390.43,380.64L389.32,386.19M389.32,386.19L390.43,385.08L392.09,384.53L393.76,384.53L395.42,385.08L396.53,386.19L397.09,387.86L397.09,388.97L396.53,390.63L395.42,391.74L393.76,392.30L392.09,392.30L390.43,391.74L389.87,391.19L389.32,390.07L389.32,389.52L389.87,388.97L390.43,389.52L389.87,390.07M393.76,384.53L394.87,385.08L395.98,386.19L396.53,387.86L396.53,388.97L395.98,390.63L394.87,391.74L393.76,392.30M390.43,380.64L395.98,380.64M390.43,381.19L393.20,381.19L395.98,380.64M403.75,380.64L402.08,381.19L400.97,382.86L400.42,385.63L400.42,387.30L400.97,390.07L402.08,391.74L403.75,392.30L404.86,392.30L406.52,391.74L407.63,390.07L408.19,387.30L408.19,385.63L407.63,382.86L406.52,381.19L404.86,380.64L403.75,380.64M403.75,380.64L402.64,381.19L402.08,381.75L401.53,382.86L400.97,385.63L400.97,387.30L401.53,390.07L402.08,391.19L402.64,391.74L403.75,392.30M404.86,392.30L405.97,391.74L406.52,391.19L407.08,390.07L407.63,387.30L407.63,385.63L407.08,382.86L406.52,381.75L405.97,381.19L404.86,380.64M28.59,365.09L26.93,365.64L25.82,367.31L25.26,370.08L25.26,371.75L25.82,374.52L26.93,376.19L28.59,376.75L29.70,376.75L31.37,376.19L32.48,374.52L33.03,371.75L33.03,370.08L32.48,367.31L31.37,365.64L29.70,365.09L28.59,365.09M28.59,365.09L27.48,365.64L26.93,366.20L26.38,367.31L25.82,370.08L25.82,371.75L26.38,374.52L26.93,375.63L27.48,376.19L28.59,376.75M29.70,376.75L30.81,376.19L31.37,375.63L31.92,374.52L32.48,371.75L32.48,370.08L31.92,367.31L31.37,366.20L30.81,365.64L29.70,365.09M26.93,280.30L28.04,279.74L29.70,278.08L29.70,289.73M29.15,278.63L29.15,289.73M26.93,289.73L31.92,289.73M25.82,193.28L26.38,193.84L25.82,194.39L25.26,193.84L25.26,193.28L25.82,192.17L26.38,191.62L28.04,191.06L30.26,191.06L31.92,191.62L32.48,192.17L33.03,193.28L33.03,194.39L32.48,195.50L30.81,196.61L28.04,197.72L26.93,198.28L25.82,199.39L25.26,201.06L25.26,202.72M30.26,191.06L31.37,191.62L31.92,192.17L32.48,193.28L32.48,194.39L31.92,195.50L30.26,196.61L28.04,197.72M25.26,201.61L25.82,201.06L26.93,201.06L29.70,202.16L31.37,202.16L32.48,201.61L33.03,201.06M26.93,201.06L29.70,202.72L31.92,202.72L32.48,202.16L33.03,201.06L33.03,199.94M25.82,106.27L26.38,106.83L25.82,107.38L25.26,106.83L25.26,106.27L25.82,105.16L26.38,104.61L28.04,104.05L30.26,104.05L31.92,104.61L32.48,105.72L32.48,107.38L31.92,108.49L30.26,109.05L28.59,109.05M30.26,104.05L31.37,104.61L31.92,105.72L31.92,107.38L31.37,108.49L30.26,109.05M30.26,109.05L31.37,109.60L32.48,110.71L33.03,111.82L33.03,113.49L32.48,114.60L31.92,115.15L30.26,115.71L28.04,115.71L26.38,115.15L25.82,114.60L25.26,113.49L25.26,112.93L25.82,112.38L26.38,112.93L25.82,113.49M31.92,110.16L32.48,111.82L32.48,113.49L31.92,114.60L31.37,115.15L30.26,115.71M30.26,18.15L30.26,28.70M30.81,17.04L30.81,28.70M30.81,17.04L24.71,25.36L33.59,25.36M28.59,28.70L32.48,28.70M186.62,52.02L186.62,69.78M187.18,52.02L187.18,69.78M186.62,52.02L190.50,52.02M186.62,69.78L190.50,69.78M194.94,54.24L194.94,65.89M195.50,54.24L195.50,65.89M198.83,57.57L198.83,62.01M193.28,54.24L202.16,54.24L202.16,57.57L201.61,54.24M195.50,59.79L198.83,59.79M193.28,65.89L197.17,65.89M205.49,61.45L212.15,61.45L212.15,60.34L211.59,59.23L211.04,58.68L209.93,58.12L208.27,58.12L206.60,58.68L205.49,59.79L204.94,61.45L204.94,62.56L205.49,64.23L206.60,65.34L208.27,65.89L209.38,65.89L211.04,65.34L212.15,64.23M211.59,61.45L211.59,59.79L211.04,58.68M208.27,58.12L207.16,58.68L206.05,59.79L205.49,61.45L205.49,62.56L206.05,64.23L207.16,65.34L208.27,65.89M224.92,52.02L214.93,69.78M228.80,54.24L228.80,65.89M229.36,54.24L229.36,65.89M236.02,54.24L236.02,65.89M236.57,54.24L236.57,65.89M227.14,54.24L231.02,54.24M234.35,54.24L238.24,54.24M229.36,59.79L236.02,59.79M227.14,65.89L231.02,65.89M234.35,65.89L238.24,65.89M244.34,52.02L244.34,69.78M244.90,52.02L244.90,69.78M241.01,52.02L244.90,52.02M241.01,69.78L244.90,69.78M249.34,59.23L259.33,59.23M249.34,62.56L259.33,62.56M266.54,54.24L264.88,54.80L263.76,56.46L263.21,59.23L263.21,60.90L263.76,63.67L264.88,65.34L266.54,65.89L267.65,65.89L269.31,65.34L270.43,63.67L270.98,60.90L270.98,59.23L270.43,56.46L269.31,54.80L267.65,54.24L266.54,54.24M266.54,54.24L265.43,54.80L264.88,55.35L264.32,56.46L263.76,59.23L263.76,60.90L264.32,63.67L264.88,64.78L265.43,65.34L266.54,65.89M267.65,65.89L268.76,65.34L269.31,64.78L269.87,63.67L270.43,60.90L270.43,59.23L269.87,56.46L269.31,55.35L268.76,54.80L267.65,54.24M275.42,64.78L274.87,65.34L275.42,65.89L275.98,65.34L275.42,64.78M280.42,56.46L280.97,57.02L280.42,57.57L279.86,57.02L279.86,56.46L280.42,55.35L280.97,54.80L282.63,54.24L284.86,54.24L286.52,54.80L287.08,55.35L287.63,56.46L287.63,57.57L287.08,58.68L285.41,59.79L282.63,60.90L281.53,61.45L280.42,62.56L279.86,64.23L279.86,65.89M284.86,54.24L285.97,54.80L286.52,55.35L287.08,56.46L287.08,57.57L286.52,58.68L284.86,59.79L282.63,60.90M279.86,64.78L280.42,64.23L281.53,64.23L284.30,65.34L285.97,65.34L287.08,64.78L287.63,64.23M281.53,64.23L284.30,65.89L286.52,65.89L287.08,65.34L287.63,64.23L287.63,63.12M294.29,54.24L292.62,54.80L291.51,56.46L290.96,59.23L290.96,60.90L291.51,63.67L292.62,65.34L294.29,65.89L295.40,65.89L297.06,65.34L298.18,63.67L298.73,60.90L298.73,59.23L298.18,56.46L297.06,54.80L295.40,54.24L294.29,54.24M294.29,54.24L293.18,54.80L292.62,55.35L292.07,56.46L291.51,59.23L291.51,60.90L292.07,63.67L292.62,64.78L293.18,65.34L294.29,65.89M295.40,65.89L296.51,65.34L297.06,64.78L297.62,63.67L298.18,60.90L298.18,59.23L297.62,56.46L297.06,55.35L296.51,54.80L295.40,54.24M184.38,398.44L184.38,407.88L184.93,409.54L186.04,410.10L187.15,410.10L188.26,409.54L188.81,408.43M184.93,398.44L184.93,407.88L185.48,409.54L186.04,410.10M182.71,402.33L187.15,402.33M204.91,396.22L203.80,397.28L202.69,398.87L201.58,400.99L201.03,403.64L201.03,405.76L201.58,408.41L202.69,410.53L203.80,412.12L204.91,413.18M203.80,397.28L202.69,399.40L202.13,400.99L201.58,403.64L201.58,405.76L202.13,408.41L202.69,410.00L203.80,412.12M209.35,398.44L209.35,410.10M209.91,398.44L213.23,408.43M209.35,398.44L213.23,410.10M217.12,398.44L213.23,410.10M217.12,398.44L217.12,410.10M217.68,398.44L217.68,410.10M207.69,398.44L209.91,398.44M217.12,398.44L219.34,398.44M207.69,410.10L211.01,410.10M215.45,410.10L219.34,410.10M222.67,402.33L226.00,410.10M223.22,402.33L226.00,408.99M229.33,402.33L226.00,410.10L224.89,412.31L223.78,413.43L222.67,413.98L222.12,413.98L221.56,413.43L222.12,412.87L222.67,413.43M221.56,402.33L224.89,402.33M227.11,402.33L230.44,402.33M233.77,402.33L233.77,410.10M234.32,402.33L234.32,410.10M234.32,405.66L234.88,403.99L235.99,402.88L237.10,402.33L238.76,402.33L239.32,402.88L239.32,403.44L238.76,403.99L238.21,403.44L238.76,402.88M232.10,402.33L234.32,402.33M232.10,410.10L235.99,410.10M247.64,403.44L248.20,402.33L248.20,404.55L247.64,403.44L247.09,402.88L245.98,402.33L243.76,402.33L242.65,402.88L242.09,403.44L242.09,404.55L242.65,405.10L243.76,405.66L246.53,406.77L247.64,407.32L248.20,407.88M242.09,403.99L242.65,404.55L243.76,405.10L246.53,406.21L247.64,406.77L248.20,407.32L248.20,408.99L247.64,409.54L246.53,410.10L244.31,410.10L243.20,409.54L242.65,408.99L242.09,407.88L242.09,410.10L242.65,408.99M251.53,396.22L252.64,397.28L253.75,398.87L254.86,400.99L255.42,403.64L255.42,405.76L254.86,408.41L253.75,410.53L252.64,412.12L251.53,413.18M252.64,397.28L253.75,399.40L254.31,400.99L254.86,403.64L254.86,405.76L254.31,408.41L253.75,410.00L252.64,412.12M4.74,212.45L16.39,216.34M4.74,212.45L16.39,208.56M6.41,212.45L16.39,209.12M13.07,215.22L13.07,210.23M16.39,217.44L16.39,214.12M16.39,210.78L16.39,207.45M2.52,200.79L3.58,201.91L5.17,203.01L7.29,204.12L9.94,204.68L12.06,204.68L14.71,204.12L16.83,203.01L18.42,201.91L19.48,200.79M3.58,201.91L5.70,203.01L7.29,203.57L9.94,204.12L12.06,204.12L14.71,203.57L16.30,203.01L18.42,201.91M4.74,196.35L16.39,196.35M4.74,195.80L16.39,195.80M4.74,198.02L4.74,194.13M16.39,198.02L16.39,189.69L13.07,189.69L16.39,190.25M4.74,186.37L5.29,186.92L5.85,186.37L5.29,185.81L4.74,186.37M8.62,186.37L16.39,186.37M8.62,185.81L16.39,185.81M8.62,188.03L8.62,185.81M16.39,188.03L16.39,184.14M2.52,181.37L3.58,180.26L5.17,179.15L7.29,178.04L9.94,177.49L12.06,177.49L14.71,178.04L16.83,179.15L18.42,180.26L19.48,181.37M3.58,180.26L5.70,179.15L7.29,178.59L9.94,178.04L12.06,178.04L14.71,178.59L16.30,179.15L18.42,180.26" stroke="#000" stroke-width="1.4" fill="none" stroke-linecap="round" stroke-linejoin="round"/>
<path d="M257.39,119.18L258.32,118.72L259.71,117.32L259.71,127.09M259.25,117.79L259.25,127.09M257.39,127.09L261.57,127.09M266.23,126.16L265.76,126.62L266.23,127.09L266.69,126.62L266.23,126.16M270.41,119.18L270.88,119.65L270.41,120.11L269.94,119.65L269.94,119.18L270.41,118.25L270.88,117.79L272.27,117.32L274.13,117.32L275.52,117.79L275.99,118.72L275.99,120.11L275.52,121.04L274.13,121.51L272.74,121.51M274.13,117.32L275.06,117.79L275.52,118.72L275.52,120.11L275.06,121.04L274.13,121.51M274.13,121.51L275.06,121.97L275.99,122.90L276.45,123.83L276.45,125.23L275.99,126.16L275.52,126.62L274.13,127.09L272.27,127.09L270.88,126.62L270.41,126.16L269.94,125.23L269.94,124.76L270.41,124.30L270.88,124.76L270.41,125.23M275.52,122.44L275.99,123.83L275.99,125.23L275.52,126.16L275.06,126.62L274.13,127.09M280.18,117.32L280.18,127.09M280.64,117.32L283.43,125.69M280.18,117.32L283.43,127.09M286.69,117.32L283.43,127.09M286.69,117.32L286.69,127.09M287.15,117.32L287.15,127.09M278.78,117.32L280.64,117.32M286.69,117.32L288.55,117.32M278.78,127.09L281.57,127.09M285.29,127.09L288.55,127.09" stroke="#ff8000" stroke-width="1.6" fill="none" stroke-linecap="round" stroke-linejoin="round"/>
<circle cx="293.7" cy="128.4" r="3.1" fill="none" stroke="#ff8000" stroke-width="1.4"/><circle cx="293.7" cy="128.4" r="0.9" fill="#ff8000"/>
<path d="M258.38,273.92L256.99,274.38L256.06,275.78L255.59,278.11L255.59,279.50L256.06,281.82L256.99,283.22L258.38,283.69L259.31,283.69L260.71,283.22L261.64,281.82L262.10,279.50L262.10,278.11L261.64,275.78L260.71,274.38L259.31,273.92L258.38,273.92M258.38,273.92L257.45,274.38L256.99,274.85L256.52,275.78L256.06,278.11L256.06,279.50L256.52,281.82L256.99,282.75L257.45,283.22L258.38,283.69M259.31,283.69L260.25,283.22L260.71,282.75L261.18,281.82L261.64,279.50L261.64,278.11L261.18,275.78L260.71,274.85L260.25,274.38L259.31,273.92M265.82,282.75L265.36,283.22L265.82,283.69L266.29,283.22L265.82,282.75M271.87,273.92L270.47,274.38L270.01,275.31L270.01,276.71L270.47,277.64L271.87,278.11L273.73,278.11L275.12,277.64L275.59,276.71L275.59,275.31L275.12,274.38L273.73,273.92L271.87,273.92M271.87,273.92L270.94,274.38L270.47,275.31L270.47,276.71L270.94,277.64L271.87,278.11M273.73,278.11L274.66,277.64L275.12,276.71L275.12,275.31L274.66,274.38L273.73,273.92M271.87,278.11L270.47,278.57L270.01,279.04L269.55,279.96L269.55,281.82L270.01,282.75L270.47,283.22L271.87,283.69L273.73,283.69L275.12,283.22L275.59,282.75L276.06,281.82L276.06,279.96L275.59,279.04L275.12,278.57L273.73,278.11M271.87,278.11L270.94,278.57L270.47,279.04L270.01,279.96L270.01,281.82L270.47,282.75L270.94,283.22L271.87,283.69M273.73,283.69L274.66,283.22L275.12,282.75L275.59,281.82L275.59,279.96L275.12,279.04L274.66,278.57L273.73,278.11M279.77,273.92L279.77,283.69M280.24,273.92L283.03,282.29M279.77,273.92L283.03,283.69M286.28,273.92L283.03,283.69M286.28,273.92L286.28,283.69M286.75,273.92L286.75,283.69M278.38,273.92L280.24,273.92M286.28,273.92L288.14,273.92M278.38,283.69L281.17,283.69M284.89,283.69L288.14,283.69" stroke="#ff00ff" stroke-width="1.6" fill="none" stroke-linecap="round" stroke-linejoin="round"/>
<circle cx="293.6" cy="285.3" r="3.1" fill="none" stroke="#ff00ff" stroke-width="1.4"/><circle cx="293.6" cy="285.3" r="0.9" fill="#ff00ff"/>
</svg></body></html>
